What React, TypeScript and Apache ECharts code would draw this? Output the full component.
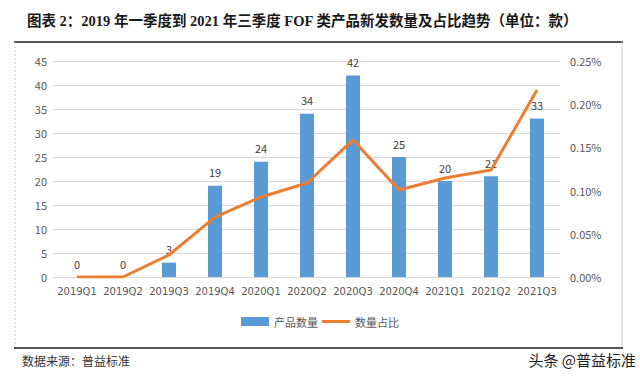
import React, { useEffect, useRef } from "react";
import * as echarts from "echarts";

const categories = ["2019Q1", "2019Q2", "2019Q3", "2019Q4", "2020Q1", "2020Q2", "2020Q3", "2020Q4", "2021Q1", "2021Q2", "2021Q3"];
const productCount = [0, 0, 3, 19, 24, 34, 42, 25, 20, 21, 33];
const countShare = [0, 0, 0.0255, 0.0694, 0.0926, 0.1088, 0.1586, 0.1007, 0.1146, 0.1238, 0.2164];
const titleText = "图表 2：2019 年一季度到 2021 年三季度 FOF 类产品新发数量及占比趋势（单位：款）";
const sourceText = "数据来源：普益标准";
const watermarkText = "头条 @普益标准";

export default function App() {
  const ref = useRef<HTMLDivElement>(null);
  useEffect(() => {
    document.body.style.margin = "0";
    const chart = echarts.init(ref.current!, null, { renderer: "svg" });
    const labelFont = "'Noto Sans CJK SC', 'DejaVu Sans', sans-serif";
    chart.setOption({
      animation: false,
      backgroundColor: "#ffffff",
      title: {
        text: titleText,
        left: 22,
        top: 9,
        textStyle: {
          fontSize: 14.5,
          fontWeight: "bold",
          color: "#1a1a1a",
          fontFamily: "'Liberation Serif', 'Noto Sans CJK SC', serif",
        },
      },
      legend: {
        bottom: 52,
        left: "center",
        itemWidth: 28,
        itemHeight: 9,
        itemGap: 4,
        textStyle: { fontSize: 11, color: "#595959", fontFamily: labelFont },
        data: [
          { name: "产品数量", icon: "rect" },
          { name: "数量占比", icon: "path://M0 0 H28 V3 H0 Z" },
        ],
      },
      grid: { left: 54, right: 80, top: 61, bottom: 107 },
      xAxis: {
        type: "category",
        data: categories,
        axisLine: { lineStyle: { color: "#d9d9d9" } },
        axisTick: { show: false },
        axisLabel: { color: "#595959", fontSize: 10, margin: 9, interval: 0, fontFamily: "'DejaVu Sans', sans-serif" },
      },
      yAxis: [
        {
          type: "value",
          min: 0,
          max: 45,
          interval: 5,
          axisLine: { show: false },
          axisTick: { show: false },
          axisLabel: { color: "#595959", fontSize: 11, margin: 7, fontFamily: labelFont },
          splitLine: { lineStyle: { color: "#d9d9d9" } },
        },
        {
          type: "value",
          min: 0,
          max: 0.25,
          interval: 0.05,
          position: "right",
          axisLine: { show: false },
          axisTick: { show: false },
          splitLine: { show: false },
          axisLabel: {
            color: "#595959",
            fontSize: 11,
            margin: 10,
            fontFamily: labelFont,
            formatter: (v: number) => v.toFixed(2) + "%",
          },
        },
      ],
      series: [
        {
          name: "产品数量",
          type: "bar",
          data: productCount,
          barWidth: 14,
          itemStyle: { color: "#5B9BD5" },
          label: { show: true, position: "top", color: "#404040", fontSize: 11, distance: 8, fontFamily: labelFont },
        },
        {
          name: "数量占比",
          type: "line",
          yAxisIndex: 1,
          data: countShare,
          symbol: "none",
          lineStyle: { color: "#ED7D31", width: 3 },
          itemStyle: { color: "#ED7D31" },
        },
      ],
      graphic: [
        { type: "line", shape: { x1: 14, y1: 42, x2: 623, y2: 42 }, style: { stroke: "#555555", lineWidth: 2 } },
        { type: "line", shape: { x1: 15, y1: 42, x2: 15, y2: 348 }, style: { stroke: "#cccccc", lineWidth: 1, lineDash: [2, 2] } },
        { type: "line", shape: { x1: 622, y1: 42, x2: 622, y2: 348 }, style: { stroke: "#cccccc", lineWidth: 1 } },
        { type: "line", shape: { x1: 14, y1: 348, x2: 623, y2: 348 }, style: { stroke: "#555555", lineWidth: 2 } },
        {
          type: "text",
          left: 22,
          top: 354,
          style: { text: sourceText, fontSize: 12, fill: "#333333", fontFamily: labelFont },
        },
        {
          type: "text",
          right: 4,
          top: 352,
          style: { text: watermarkText, fontSize: 15, fill: "#222222", fontFamily: labelFont },
        },
      ],
    });
    return () => chart.dispose();
  }, []);
  return <div ref={ref} style={{ width: 640, height: 384 }} />;
}
